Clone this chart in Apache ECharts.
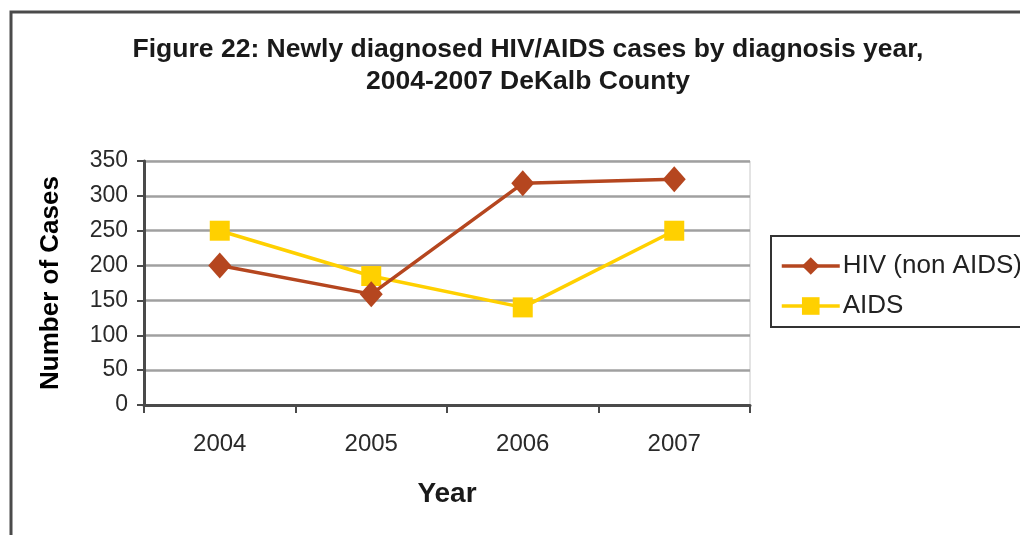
<!DOCTYPE html>
<html>
<head>
<meta charset="utf-8">
<script src="https://cdn.jsdelivr.net/npm/echarts@6/dist/echarts.min.js"></script>
<style>
  html, body { margin: 0; padding: 0; background: #fff; }
  #chart { width: 1020px; height: 535px; }
</style>
</head>
<body>
<div id="chart"></div>
<script>
// Newly diagnosed cases per diagnosis year
const years = ['2004', '2005', '2006', '2007'];
const hivNonAids = [200, 159, 318, 324];
const aids = [250, 185, 140, 250];
const yTicks = { min: 0, max: 350, interval: 50 };

const narrow = '"Liberation Sans Narrow", "Arial Narrow", "Liberation Sans", Arial, sans-serif';
const sans = '"Liberation Sans", Arial, sans-serif';

const chart = echarts.init(document.getElementById('chart'), null, { renderer: 'canvas' });

chart.setOption({
  backgroundColor: '#ffffff',
  animation: false,
  title: {
    text: 'Figure 22: Newly diagnosed HIV/AIDS cases by diagnosis year,\n2004-2007 DeKalb County',
    left: 523,
    textAlign: 'center',
    top: 29,
    textStyle: {
      fontFamily: narrow,
      fontWeight: 'bold',
      fontSize: 26.5,
      lineHeight: 32,
      color: '#1a1a1a'
    }
  },
  graphic: [{
    type: 'rect',
    shape: { x: 11, y: 12, width: 1100, height: 600 },
    style: { fill: null, stroke: '#4a4a4a', lineWidth: 3 },
    silent: true
  }],
  legend: {
    orient: 'vertical',
    left: 771,
    top: 236,
    data: ['HIV (non AIDS)', 'AIDS'],
    itemWidth: 58,
    itemHeight: 22,
    itemGap: 12,
    padding: [16, 30, 7, 9],
    borderColor: '#333',
    borderWidth: 2,
    lineStyle: { width: 3.5 },
    textStyle: {
      fontFamily: sans,
      fontSize: 26,
      lineHeight: 28,
      color: '#222',
      padding: [0, 0, 0, -2]
    }
  },
  grid: {
    left: 144,
    top: 161,
    right: 270,
    bottom: 130,
    show: true,
    borderColor: '#c8c8c8',
    borderWidth: 1
  },
  xAxis: {
    type: 'category',
    data: years,
    boundaryGap: true,
    name: 'Year',
    nameLocation: 'middle',
    nameGap: 75,
    nameTextStyle: {
      fontFamily: narrow,
      fontWeight: 'bold',
      fontSize: 28,
      color: '#1a1a1a'
    },
    axisLine: { lineStyle: { color: '#4a4a4a', width: 3 } },
    axisTick: { show: true, length: 8, lineStyle: { color: '#4a4a4a', width: 2 } },
    axisLabel: {
      fontFamily: narrow,
      fontSize: 24,
      color: '#2a2a2a',
      margin: 27
    }
  },
  yAxis: {
    type: 'value',
    min: yTicks.min,
    max: yTicks.max,
    interval: yTicks.interval,
    name: 'Number of Cases',
    nameLocation: 'middle',
    nameGap: 80,
    nameRotate: 90,
    nameTextStyle: {
      fontFamily: sans,
      fontWeight: 'bold',
      fontSize: 26,
      color: '#000'
    },
    axisLine: { show: true, lineStyle: { color: '#4a4a4a', width: 3 } },
    axisTick: { show: true, length: 7, inside: false, lineStyle: { color: '#4a4a4a', width: 2 } },
    axisLabel: {
      fontFamily: narrow,
      fontSize: 23,
      color: '#2a2a2a',
      margin: 16
    },
    splitLine: { lineStyle: { color: '#a0a0a0', width: 2.5 } }
  },
  series: [
    {
      name: 'HIV (non AIDS)',
      type: 'line',
      data: hivNonAids,
      symbol: 'diamond',
      symbolSize: [23, 26],
      lineStyle: { color: '#b5461f', width: 3.5 },
      itemStyle: { color: '#b5461f' },
      z: 3
    },
    {
      name: 'AIDS',
      type: 'line',
      data: aids,
      symbol: 'rect',
      symbolSize: 20,
      lineStyle: { color: '#ffd000', width: 3.5 },
      itemStyle: { color: '#ffd000' },
      z: 2
    }
  ]
});
</script>
</body>
</html>
